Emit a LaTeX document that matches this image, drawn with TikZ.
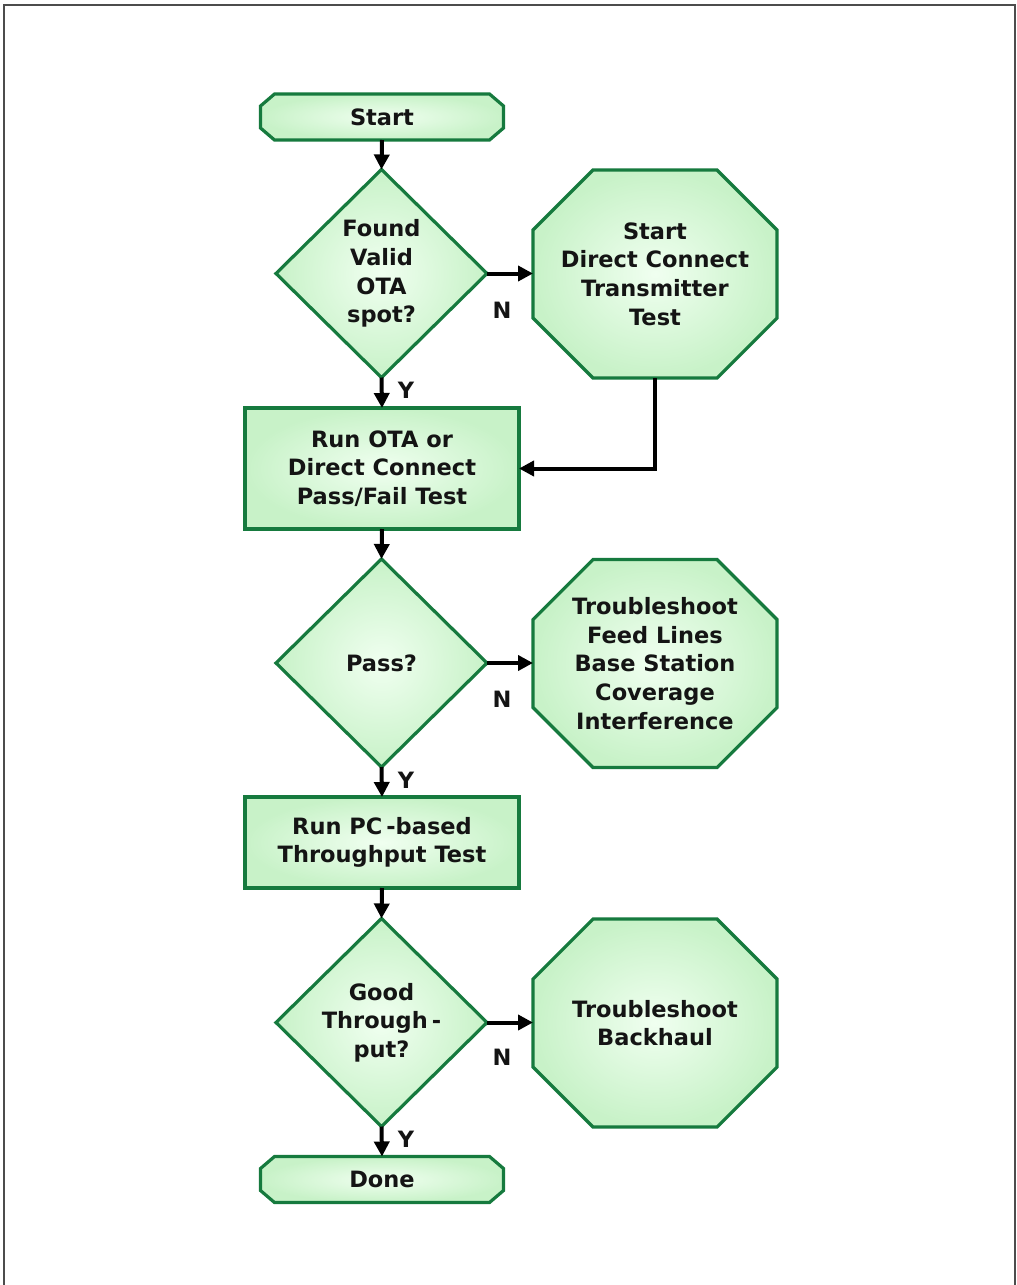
\documentclass[tikz,border=0pt]{standalone}
\usepackage{fontspec}
\setmainfont{DejaVu Sans}
\usetikzlibrary{shapes.geometric,arrows.meta,calc,backgrounds}
\definecolor{edgegreen}{RGB}{22,122,62}
\definecolor{fillout}{RGB}{200,242,200}
\definecolor{fillin}{RGB}{240,255,240}
\definecolor{textc}{RGB}{20,20,20}
\newcommand{\chamfshape}[3]{%
  \path[shapefill] ($(#1.north west)+(#2,0pt)$) -- ($(#1.north east)+(-#2,0pt)$)
    -- ($(#1.north east)+(0pt,-#3)$) -- ($(#1.south east)+(0pt,#3)$)
    -- ($(#1.south east)+(-#2,0pt)$) -- ($(#1.south west)+(#2,0pt)$)
    -- ($(#1.south west)+(0pt,#3)$) -- ($(#1.north west)+(0pt,-#3)$) -- cycle;}
\begin{document}
\begin{tikzpicture}[x=1pt,y=-1pt,
  font=\bfseries\fontsize{22.5}{28.7}\selectfont, text=textc,
  shapefill/.style={draw=edgegreen, line width=3.2pt, inner color=fillin, outer color=fillout},
  box/.style={rectangle, shapefill, minimum width=274pt, align=center, inner sep=0pt, outer sep=0pt},
  dec/.style={diamond, shapefill, minimum width=211pt, minimum height=208pt, inner sep=0pt, outer sep=0pt, align=center},
  oct/.style={rectangle, minimum width=244pt, minimum height=208pt, inner sep=0pt, outer sep=0pt, align=center},
  term/.style={rectangle, minimum width=243pt, minimum height=46pt, inner sep=0pt, outer sep=0pt},
  arr/.style={line width=4pt, draw=black, -{Triangle[length=15pt,width=15pt]}},
  lab/.style={inner sep=0pt}]
\useasboundingbox (0,0) rectangle (1017,1285);
\draw[line width=2pt, black!70] (4,1285) -- (4,5) -- (1015,5) -- (1015,1285);

\node[term] (start) at (382,117) {Start};
\node[dec] (d1) at (381.5,273.5) {Found\\Valid\\OTA\\spot?};
\node[oct] (o1) at (655,274) {Start\\Direct Connect\\Transmitter\\Test};
\node[box, minimum height=121pt] (b1) at (382,468.5) {Run OTA or\\Direct Connect\\Pass/Fail Test};
\node[dec] (d2) at (381.5,663) {Pass?};
\node[oct] (o2) at (655,663.5) {Troubleshoot\\Feed Lines\\Base Station\\Coverage\\Interference};
\node[box, minimum height=91pt] (b2) at (382,842.5) {Run PC\kern4pt-based\\Throughput Test};
\node[dec] (d3) at (381.5,1022.5) {Good\\Through\kern4pt-\\put?};
\node[oct] (o3) at (655,1023) {Troubleshoot\\Backhaul};
\node[term] (done) at (382,1179.5) {Done};

\begin{scope}[on background layer]
  \chamfshape{start}{14pt}{12pt}
  \chamfshape{done}{14pt}{12pt}
  \chamfshape{o1}{60pt}{60pt}
  \chamfshape{o2}{60pt}{60pt}
  \chamfshape{o3}{60pt}{60pt}
\end{scope}

\draw[arr] (start.south) -- (d1.north);
\draw[arr] (d1.east) -- (d1.east -| o1.west);
\draw[arr] (d1.south) -- (b1.north);
\draw[arr] (o1.south) |- (b1.east);
\draw[arr] (b1.south) -- (d2.north);
\draw[arr] (d2.east) -- (d2.east -| o2.west);
\draw[arr] (d2.south) -- (b2.north);
\draw[arr] (b2.south) -- (d3.north);
\draw[arr] (d3.east) -- (d3.east -| o3.west);
\draw[arr] (d3.south) -- (done.north);

\node[lab] (n1) at (502,310) {N};
\node[lab] (n2) at (502,699) {N};
\node[lab] (n3) at (502,1057) {N};
\node[lab] (y1) at (406,390) {Y};
\node[lab] (y2) at (406,780) {Y};
\node[lab] (y3) at (406,1139) {Y};
\end{tikzpicture}
\end{document}
